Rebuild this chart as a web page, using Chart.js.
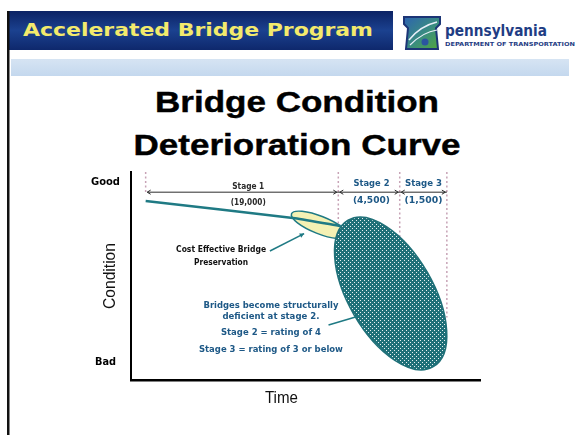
<!DOCTYPE html>
<html><head><meta charset="utf-8">
<script src="https://cdn.jsdelivr.net/npm/chart.js@4/dist/chart.umd.min.js"></script>
<style>
html,body{margin:0;padding:0;background:#fff;width:579px;height:435px;overflow:hidden}
#slide{position:absolute;left:0;top:0}
#c{position:absolute;left:0;top:0}
</style></head><body>
<svg id="slide" width="579" height="435" viewBox="0 0 579 435">
 <defs>
  <linearGradient id="bar" x1="0" y1="0" x2="0" y2="1">
   <stop offset="0" stop-color="#0b2264"/><stop offset="0.5" stop-color="#1b418f"/><stop offset="1" stop-color="#0e286c"/>
  </linearGradient>
  <linearGradient id="ks" x1="0" y1="0" x2="1" y2="1">
   <stop offset="0" stop-color="#2d63b0"/><stop offset="0.55" stop-color="#3a8d80"/><stop offset="1" stop-color="#52a83a"/>
  </linearGradient>
  <linearGradient id="band" x1="0" y1="0" x2="0" y2="1">
   <stop offset="0" stop-color="#d6e4f3"/><stop offset="1" stop-color="#c4d8ee"/>
  </linearGradient>
 </defs>
 <rect x="7" y="11" width="386" height="39" fill="url(#bar)"/>
 <text x="23" y="36" font-family="DejaVu Sans" font-weight="bold" font-size="18.5" fill="#f3ea6c" textLength="350" lengthAdjust="spacingAndGlyphs">Accelerated Bridge Program</text>
 <path d="M404,17 L440,17 L440,24 L436,28 L438,49 L406,49 L408,28 L404,24 Z" fill="url(#ks)" stroke="#1c3576" stroke-width="2"/>
 <path d="M409,40 Q420,26 437,22" fill="none" stroke="#e8eef8" stroke-width="1.5"/>
 <path d="M410,45 Q423,32 437,30" fill="none" stroke="#e8eef8" stroke-width="1.2"/>
 <circle cx="425" cy="42" r="3.5" fill="#2b55a0"/>
 <text x="445" y="36" font-family="DejaVu Sans" font-weight="bold" font-size="16" fill="#1f3d84" textLength="102" lengthAdjust="spacingAndGlyphs">pennsylvania</text>
 <text x="445" y="46" font-family="DejaVu Sans" font-weight="bold" font-size="5.5" fill="#1f3d84" textLength="130" lengthAdjust="spacingAndGlyphs">DEPARTMENT OF TRANSPORTATION</text>
 <rect x="11" y="59" width="558" height="17" fill="url(#band)"/>
 <rect x="7" y="11" width="2.5" height="424" fill="#111"/>
 <text x="297" y="112" text-anchor="middle" font-family="Liberation Sans" font-weight="bold" font-size="29" fill="#000" stroke="#000" stroke-width="0.4" textLength="284" lengthAdjust="spacingAndGlyphs">Bridge Condition</text>
 <text x="297" y="155" text-anchor="middle" font-family="Liberation Sans" font-weight="bold" font-size="29" fill="#000" stroke="#000" stroke-width="0.4" textLength="327" lengthAdjust="spacingAndGlyphs">Deterioration Curve</text>
</svg>
<canvas id="c" width="579" height="435"></canvas>
<script>
// ---- data (time 0..100, condition 0 = Bad .. 100 = Good) ----
const stageNames = ['Stage 1', 'Stage 2', 'Stage 3'];
const stageCounts = ['(19,000)', '(4,500)', '(1,500)'];
const stageBounds = [4.2, 59.4, 77.0, 90.5];
const conditionLabels = ['Good', 'Bad'];
const conditionLevels = [94.9, 8.3];
const curveTime = [4.2, 47.0, 60.0];
const curveCondition = [86.1, 77.8, 74.0];
const preservationZone = [[46.0, 79.9], [62.1, 69.2]];
const deficientZone = [[62.2, 76.8], [86.6, 6.4]];
const preservationNote = ['Cost Effective Bridge', 'Preservation'];
const deficientNote = ['Bridges become structurally', 'deficient at stage 2.', 'Stage 2 = rating of 4', 'Stage 3 = rating of 3 or below'];
const axisTitles = {x: 'Time', y: 'Condition'};

// ---- layout / style (not data) ----
const TEAL = '#1f7078';
const LINE_TEAL = '#1f7a84';
const NOTE_BLUE = '#1d5886';
const layout = {
  stageLineLevel: 90.3,
  stageLabel: [{t: 33.6, c: 93.1, w: 32, w2: 35, c2: 85.2, col: '#2a2a2a'},
               {t: 68.9, c: 94.4, w: 36, w2: 37, c2: 86.1, col: NOTE_BLUE},
               {t: 83.8, c: 94.4, w: 37, w2: 38, c2: 86.1, col: NOTE_BLUE}],
  dashEnds: [90, 62, 40, 30],
  presText: {t: 25.8, c: [62.5, 56.5], w: [90, 54]},
  presPointer: [[39.8, 62.0], [49.6, 70.4]],
  defText: {t: 40.1, c: [35.6, 30.6, 22.7, 14.4], w: [135, 97, 100, 144]},
  defPointer: [[56.6, 26.4], [65.8, 31.0]]
};

function fitText(ctx, txt, x, y, w, font, color, rot) {
  ctx.save();
  ctx.font = font;
  const m = ctx.measureText(txt).width;
  ctx.translate(x, y);
  if (rot) ctx.rotate(rot);
  ctx.scale(w / m, 1);
  ctx.fillStyle = color;
  ctx.textAlign = 'center';
  ctx.textBaseline = 'middle';
  ctx.fillText(txt, 0, 0);
  ctx.restore();
}
function arrowHead(ctx, x, y, dir, s) {
  ctx.beginPath();
  ctx.moveTo(x + dir * s, y - s * 0.6);
  ctx.lineTo(x, y);
  ctx.lineTo(x + dir * s, y + s * 0.6);
  ctx.stroke();
}
function zonePath(ctx, X, Y, zone, ratio) {
  const x1 = X(zone[0][0]), y1 = Y(zone[0][1]), x2 = X(zone[1][0]), y2 = Y(zone[1][1]);
  const a = Math.hypot(x2 - x1, y2 - y1) / 2;
  ctx.beginPath();
  ctx.ellipse((x1 + x2) / 2, (y1 + y2) / 2, a, a * ratio, Math.atan2(y2 - y1, x2 - x1), 0, Math.PI * 2);
}
function makePattern(ctx) {
  const p = document.createElement('canvas');
  p.width = 4; p.height = 4;
  const g = p.getContext('2d');
  g.fillStyle = TEAL; g.fillRect(0, 0, 4, 4);
  g.fillStyle = 'rgba(255,255,255,0.9)';
  g.fillRect(0, 0, 1, 1); g.fillRect(2, 2, 1, 1);
  return ctx.createPattern(p, 'repeat');
}

const slidePlugin = {
  id: 'slide',
  beforeDatasetsDraw(chart) {
    const ctx = chart.ctx, X = v => chart.scales.x.getPixelForValue(v), Y = v => chart.scales.y.getPixelForValue(v);
    ctx.save();
    ctx.strokeStyle = '#c7a3b6'; ctx.lineWidth = 1.5; ctx.setLineDash([2, 2.5]);
    stageBounds.forEach((b, i) => {
      ctx.beginPath(); ctx.moveTo(X(b), Y(100)); ctx.lineTo(X(b), Y(layout.dashEnds[i])); ctx.stroke();
    });
    ctx.restore();
    ctx.save();
    ctx.strokeStyle = '#2b2b2b'; ctx.lineWidth = 1;
    const ys = Y(layout.stageLineLevel);
    ctx.beginPath(); ctx.moveTo(X(stageBounds[0]) + 2, ys); ctx.lineTo(X(stageBounds[3]), ys); ctx.stroke();
    for (let i = 0; i < 3; i++) {
      arrowHead(ctx, X(stageBounds[i]) + 1.5, ys, 1, 3.5);
      arrowHead(ctx, X(stageBounds[i + 1]) - 1.5, ys, -1, 3.5);
    }
    ctx.restore();
    ctx.save();
    zonePath(ctx, X, Y, preservationZone, 0.29);
    ctx.fillStyle = '#f4f1b4'; ctx.fill();
    ctx.restore();
  },
  afterDatasetsDraw(chart) {
    const ctx = chart.ctx, X = v => chart.scales.x.getPixelForValue(v), Y = v => chart.scales.y.getPixelForValue(v);
    const ca = chart.chartArea;
    ctx.save();
    zonePath(ctx, X, Y, preservationZone, 0.29);
    ctx.strokeStyle = LINE_TEAL; ctx.lineWidth = 1.5; ctx.stroke();
    ctx.restore();
    ctx.save();
    zonePath(ctx, X, Y, deficientZone, 0.5);
    ctx.fillStyle = makePattern(ctx); ctx.fill();
    ctx.strokeStyle = TEAL; ctx.lineWidth = 1.5; ctx.stroke();
    ctx.restore();
    stageNames.forEach((s, i) => {
      const L = layout.stageLabel[i];
      fitText(ctx, s, X(L.t), Y(L.c), L.w, 'bold 9px "DejaVu Sans"', L.col);
      fitText(ctx, stageCounts[i], X(L.t), Y(L.c2), L.w2, 'bold 9px "DejaVu Sans"', L.col);
    });
    preservationNote.forEach((s, i) => fitText(ctx, s, X(layout.presText.t), Y(layout.presText.c[i]), layout.presText.w[i], 'bold 8px "DejaVu Sans"', '#111'));
    ctx.save();
    ctx.strokeStyle = LINE_TEAL; ctx.fillStyle = LINE_TEAL; ctx.lineWidth = 1.5;
    const p = layout.presPointer;
    const px1 = X(p[0][0]), py1 = Y(p[0][1]), px2 = X(p[1][0]), py2 = Y(p[1][1]);
    ctx.beginPath(); ctx.moveTo(px1, py1); ctx.lineTo(px2, py2); ctx.stroke();
    const ang = Math.atan2(py2 - py1, px2 - px1);
    ctx.beginPath();
    ctx.moveTo(px2, py2);
    ctx.lineTo(px2 - 5 * Math.cos(ang - 0.5), py2 - 5 * Math.sin(ang - 0.5));
    ctx.lineTo(px2 - 5 * Math.cos(ang + 0.5), py2 - 5 * Math.sin(ang + 0.5));
    ctx.closePath(); ctx.fill();
    const d = layout.defPointer;
    ctx.beginPath(); ctx.moveTo(X(d[0][0]), Y(d[0][1])); ctx.lineTo(X(d[1][0]), Y(d[1][1])); ctx.stroke();
    ctx.restore();
    deficientNote.forEach((s, i) => fitText(ctx, s, X(layout.defText.t), Y(layout.defText.c[i]), layout.defText.w[i], 'bold 9px "DejaVu Sans"', NOTE_BLUE));
    conditionLabels.forEach((s, i) => fitText(ctx, s, ca.left - 25.5, Y(conditionLevels[i]), i === 0 ? 29 : 21, 'bold 10px "DejaVu Sans"', '#000'));
    fitText(ctx, axisTitles.y, ca.left - 20, Y(50), 66, '16px "Liberation Sans"', '#111', -Math.PI / 2);
    fitText(ctx, axisTitles.x, X(43.1), ca.bottom + 19, 33, '16px "Liberation Sans"', '#111');
  }
};

new Chart(document.getElementById('c'), {
  type: 'scatter',
  data: {
    datasets: [{
      data: curveTime.map((t, i) => ({x: t, y: curveCondition[i]})),
      showLine: true,
      borderColor: LINE_TEAL,
      borderWidth: 2.5,
      pointRadius: 0,
      tension: 0.2
    }]
  },
  options: {
    responsive: false,
    animation: false,
    devicePixelRatio: 1,
    layout: {padding: {left: 123, top: 172, right: 99, bottom: 47}},
    plugins: {legend: {display: false}, tooltip: {enabled: false}},
    scales: {
      x: {type: 'linear', min: 0, max: 100, grid: {display: false}, ticks: {display: false}, border: {display: true, color: '#000', width: 2.5}},
      y: {type: 'linear', min: 0, max: 100, grid: {display: false}, ticks: {display: false}, border: {display: true, color: '#000', width: 2}}
    }
  },
  plugins: [slidePlugin]
});
</script>
</body></html>
